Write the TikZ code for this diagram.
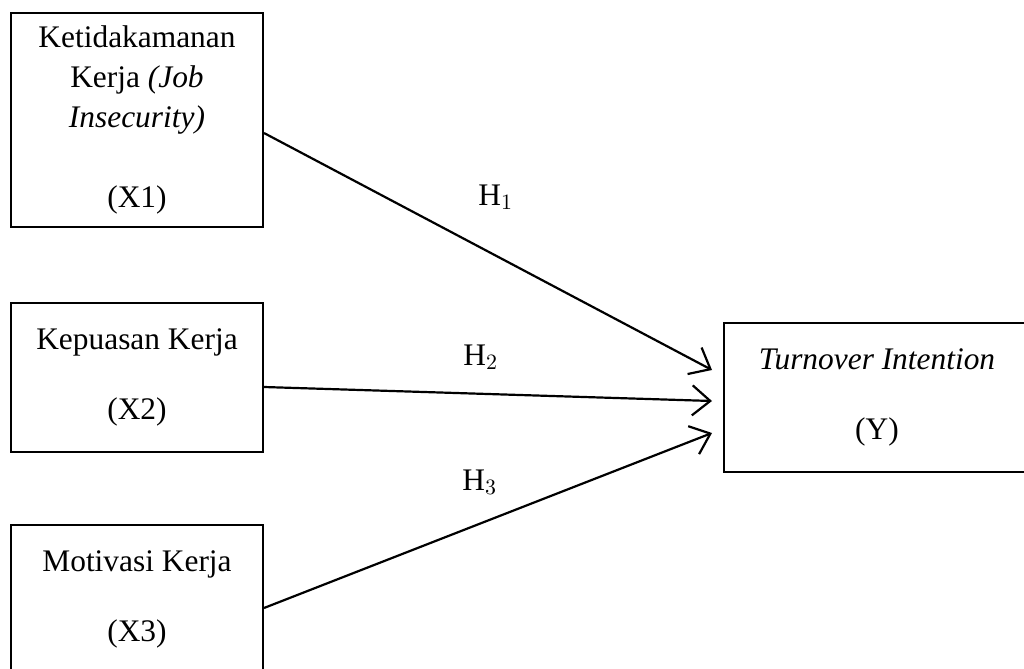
\documentclass[tikz,border=0pt]{standalone}
\usepackage{fontspec}
\setmainfont{Liberation Serif}
\usetikzlibrary{arrows.meta}

\begin{document}
\begin{tikzpicture}[x=0.5pt,y=-0.5pt,
    every node/.style={font=\fontsize{15.7pt}{20pt}\selectfont,align=center},
    varbox/.style={draw,line width=1pt,minimum width=126pt,minimum height=74.5pt},
    hyparrow/.style={-{Straight Barb[length=9pt,width=15pt,line width=1.1pt]},line width=1.1pt}]
        \useasboundingbox (0,0) rectangle (1024,669);
        % independent variables
        \node[varbox,minimum height=107pt] (x1) at (137,120) {Ketidakamanan\\Kerja \textit{(Job}\\\textit{Insecurity)}\\[20pt](X1)};
        \node[varbox] (x2) at (137,377.5) {Kepuasan Kerja\\[15pt](X2)};
        \node[varbox] (x3) at (137,599.5) {Motivasi Kerja\\[15pt](X3)};
        % dependent variable
        \node[varbox,minimum width=153pt] (y) at (877,397.5) {\textit{Turnover Intention}\\[15pt](Y)};
        \coordinate (t1) at (712,370);
        \coordinate (t2) at (712,401);
        \coordinate (t3) at (712,433);
        \draw[hyparrow] ([yshift=-6.5pt]x1.east) -- (t1);
        \draw[hyparrow] ([yshift=-4.75pt]x2.east) -- (t2);
        \draw[hyparrow] ([yshift=-4.25pt]x3.east) -- (t3);
        % hypotheses
        \node[anchor=base west,inner sep=0pt] (h1) at (478,205) {$\mathrm{H}_1$};
        \node[anchor=base west,inner sep=0pt] (h2) at (463,365) {$\mathrm{H}_2$};
        \node[anchor=base west,inner sep=0pt] (h3) at (462,490) {$\mathrm{H}_3$};
      \end{tikzpicture}
\end{document}
